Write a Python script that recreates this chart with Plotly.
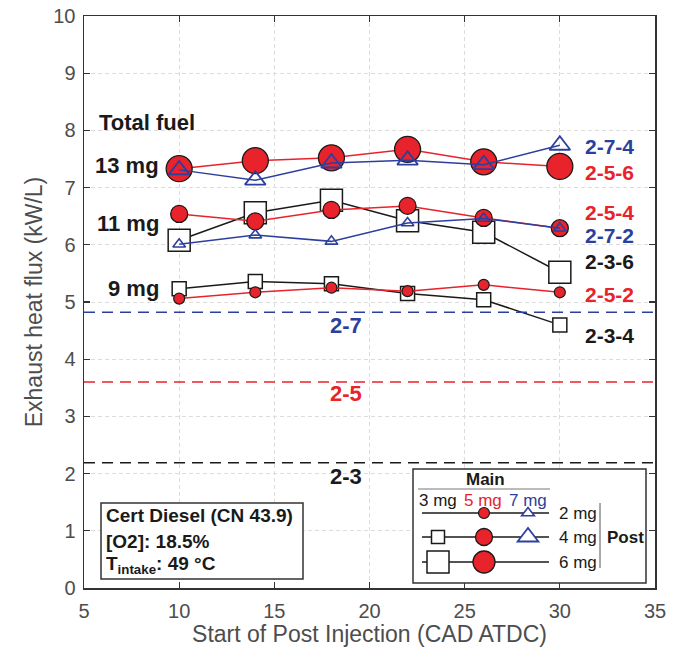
import plotly.graph_objects as go

# ---------------- data ----------------
x_soi = [10, 14, 18, 22, 26, 30]
s_2_5_6 = [7.33, 7.47, 7.52, 7.67, 7.45, 7.37]
s_2_7_4 = [7.31, 7.13, 7.43, 7.48, 7.40, 7.74]
s_2_5_4 = [6.54, 6.41, 6.61, 6.68, 6.47, 6.29]
s_2_3_6 = [6.08, 6.56, 6.78, 6.42, 6.22, 5.52]
s_2_7_2 = [6.01, 6.17, 6.06, 6.38, 6.46, 6.29]
s_2_3_4 = [5.23, 5.36, 5.32, 5.15, 5.04, 4.60]
s_2_5_2 = [5.06, 5.17, 5.25, 5.19, 5.30, 5.17]

base_names = ["2-7", "2-5", "2-3"]
base_values = [4.82, 3.60, 2.19]

x_ticks = [5, 10, 15, 20, 25, 30, 35]
y_ticks = list(range(0, 11))

RED = "#e8232b"
BLUE = "#2c3f9e"
BLACK = "#1a1a1a"
GRAY = "#4d4d4d"
FONT = "Liberation Sans, Arial, sans-serif"

W, H = 677, 654
L_PX, R_PX, T_PX, B_PX = 84, 655, 16, 588
XMIN, XMAX, YMIN, YMAX = 5, 35, 0, 10


def dx(px):
    return XMIN + (px - L_PX) * (XMAX - XMIN) / (R_PX - L_PX)


def dy(py):
    return YMIN + (B_PX - py) * (YMAX - YMIN) / (B_PX - T_PX)


fig = go.Figure()


def add_series(y, color, symbol, size, fill, lcolor, lwidth=1.3):
    fig.add_trace(go.Scatter(
        x=x_soi, y=y, mode="lines+markers",
        line=dict(color=color, width=1.5),
        marker=dict(symbol=symbol, size=size, color=fill,
                    line=dict(color=lcolor, width=lwidth)),
        showlegend=False, hoverinfo="skip"))


# black (3 mg main) squares
add_series(s_2_3_6, BLACK, "square", 22, "white", BLACK, 1.5)
add_series(s_2_3_4, BLACK, "square", 14, "white", BLACK, 1.5)
# red (5 mg main) circles
add_series(s_2_5_6, RED, "circle", 26, RED, BLACK, 1.3)
add_series(s_2_5_4, RED, "circle", 17, RED, BLACK, 1.3)
add_series(s_2_5_2, RED, "circle", 11, RED, BLACK, 1.2)
# blue (7 mg main) triangles
add_series(s_2_7_4, BLUE, "triangle-up-open", 18, BLUE, BLUE, 1.8)
add_series(s_2_7_2, BLUE, "triangle-up-open", 11, BLUE, BLUE, 1.6)

# baseline dashed lines
base_colors = [BLUE, RED, BLACK]
for name, val, col in zip(base_names, base_values, base_colors):
    fig.add_hline(y=val, line=dict(color=col, width=1.5, dash="11px,7px"), layer="above")

shapes = []
annos = []


def text(px, py, s, size=22, color=BLACK, bold=True, xanchor="center"):
    annos.append(dict(x=dx(px), y=dy(py), xref="x", yref="y", text=(f"<b>{s}</b>" if bold else s),
                      showarrow=False, xanchor=xanchor, yanchor="middle",
                      font=dict(family=FONT, size=size, color=color)))


# baseline labels
for name, py, col in zip(base_names, [325, 393, 476], base_colors):
    text(346, py, name, color=col)

# left group labels
text(97, 122, "Total fuel", xanchor="left")
text(161, 165, "13 mg", xanchor="right")
text(161, 223, "11 mg", xanchor="right")
text(161, 288, "9 mg", xanchor="right")

# right series labels
right_labels = [("2-7-4", 146, BLUE), ("2-5-6", 172, RED), ("2-5-4", 212, RED),
                ("2-7-2", 235, BLUE), ("2-3-6", 261, BLACK), ("2-5-2", 294, RED),
                ("2-3-4", 335, BLACK)]
for s, py, col in right_labels:
    text(583, py, s, size=21, color=col, xanchor="left")

# info box
shapes.append(dict(type="rect", xref="x", yref="y", x0=dx(101), x1=dx(303), y0=dy(579), y1=dy(503),
                   fillcolor="white", line=dict(color="#333", width=1.5), layer="above"))
text(104, 515, "Cert Diesel (CN 43.9)", size=19, xanchor="left")
text(104, 541, "[O2]: 18.5%", size=19, xanchor="left")
text(104, 565, "T<sub>intake</sub>: 49 °C", size=19, xanchor="left")

# custom legend box
shapes.append(dict(type="rect", xref="x", yref="y", x0=dx(413), x1=dx(646), y0=dy(583), y1=dy(469),
                   fillcolor="white", line=dict(color="#333", width=1.5), layer="above"))
text(485, 479, "Main", size=17)
shapes.append(dict(type="line", xref="x", yref="y", x0=dx(418), x1=dx(550), y0=dy(489), y1=dy(489),
                   line=dict(color="#777", width=1), layer="above"))
text(438, 500, "3 mg", size=17, bold=False)
text(483, 500, "5 mg", size=17, bold=False, color=RED)
text(528, 500, "7 mg", size=17, bold=False, color=BLUE)
row_y = [513, 537, 562]
for py, lab in zip(row_y, ["2 mg", "4 mg", "6 mg"]):
    shapes.append(dict(type="line", xref="x", yref="y", x0=dx(422), x1=dx(549), y0=dy(py), y1=dy(py),
                       line=dict(color=BLACK, width=1.3), layer="above"))
    text(557, py, lab, size=17, bold=False, xanchor="left")
shapes.append(dict(type="line", xref="x", yref="y", x0=dx(600), x1=dx(600), y0=dy(503), y1=dy(568),
                   line=dict(color="#555", width=1), layer="above"))
text(605, 537, "Post", size=17, xanchor="left")


def marker_shape(kind, px, py, size, fill, lcol, lw):
    base = dict(xref="x", yref="y", xsizemode="pixel", ysizemode="pixel",
                xanchor=dx(px), yanchor=dy(py), fillcolor=fill,
                line=dict(color=lcol, width=lw), layer="above")
    r = size / 2
    if kind == "circle":
        base.update(type="circle", x0=-r, x1=r, y0=-r, y1=r)
    elif kind == "square":
        base.update(type="rect", x0=-r, x1=r, y0=-r, y1=r)
    else:
        a = r * 2 / 3 ** 0.5
        base.update(type="path", path=f"M {-a:.2f},{-r/2:.2f} L {a:.2f},{-r/2:.2f} L 0,{r:.2f} Z")
    shapes.append(base)


marker_shape("circle", 484, 513, 11, RED, BLACK, 1.2)
marker_shape("tri", 528, 513, 11, "white", BLUE, 1.6)
marker_shape("square", 438, 537, 13, "white", BLACK, 1.5)
marker_shape("circle", 484, 537, 17, RED, BLACK, 1.3)
marker_shape("tri", 528, 537, 18, "white", BLUE, 1.8)
marker_shape("square", 438, 562, 22, "white", BLACK, 1.5)
marker_shape("circle", 484, 562, 22, RED, BLACK, 1.3)

axis_common = dict(
    showline=True, linecolor="#333", linewidth=1.5, mirror="ticks",
    ticks="inside", ticklen=6, tickwidth=1.2, tickcolor="#333",
    showgrid=True, gridcolor="#dcdcdc", gridwidth=1, griddash="4px,3px",
    zeroline=False, tickfont=dict(family=FONT, size=20, color=GRAY),
    automargin=False, ticklabeloverflow="allow",
)

fig.update_layout(
    width=W, height=H,
    margin=dict(l=L_PX, r=W - R_PX, t=T_PX, b=H - B_PX, pad=0),
    paper_bgcolor="white", plot_bgcolor="white",
    hovermode=False,
    xaxis=dict(range=[XMIN, XMAX], tickvals=x_ticks, ticklabelstandoff=4,
               title=dict(text="Start of Post Injection (CAD ATDC)", standoff=5,
                          font=dict(family=FONT, size=23, color=GRAY)),
               **axis_common),
    yaxis=dict(range=[YMIN, YMAX], tickvals=y_ticks, ticklabelstandoff=3,
               title=dict(text="Exhaust heat flux (kW/L)", standoff=4,
                          font=dict(family=FONT, size=23, color=GRAY)),
               **axis_common),
    shapes=list(fig.layout.shapes) + shapes,
    annotations=annos,
)

fig.write_html(
    "out.html",
    config={"displayModeBar": False, "staticPlot": True},
    post_script="document.body.style.margin='0';document.body.style.overflow='hidden';"
                "document.documentElement.style.overflow='hidden';",
)
